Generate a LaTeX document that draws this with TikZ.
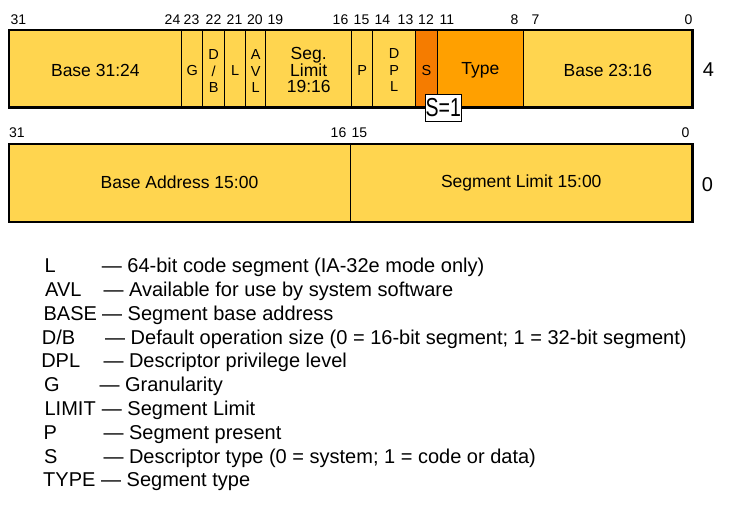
\documentclass[tikz,border=0pt]{standalone}
\usepackage{fontspec}
\usepackage{graphicx}
\setmainfont{Liberation Sans}
\definecolor{yel}{HTML}{FFD54F}
\definecolor{sorange}{HTML}{F57C00}
\definecolor{torange}{HTML}{FFA000}
\tikzset{
  cell/.style={draw=black, line width=0.9pt, fill=yel, inner sep=0pt, outer sep=0pt,
    anchor=north west},
  toprow/.style={cell, minimum height=77.5pt},
  botrow/.style={cell, minimum height=78pt},
  ctext/.style={inner sep=0pt, align=center},
  bigtxt/.style={ctext, font=\fontsize{17.5}{16.7}\selectfont},
  smalltxt/.style={ctext, font=\fontsize{14.5}{16.7}\selectfont},
  bitnum/.style={inner sep=0pt, font=\fontsize{14}{14}\selectfont},
  rowlbl/.style={inner sep=0pt, font=\fontsize{20}{20}\selectfont},
  legkey/.style={inner sep=0pt, anchor=base west, font=\fontsize{20}{20}\selectfont},
  legdesc/.style={inner sep=0pt, anchor=base west, font=\fontsize{20}{20}\selectfont},
  outline/.style={draw=black, line width=2.2pt}
}
\begin{document}
\begin{tikzpicture}[x=1pt,y=-1pt]
\fill[white] (0,0) rectangle (747,507);
\useasboundingbox (0,0) rectangle (747,507);

% ---- top row (offset 4)
\node[toprow, minimum width=172.7pt] (b3124) at (9,30) {};
\node[toprow, minimum width=21pt] (g) at (181.7,30) {};
\node[toprow, minimum width=22pt] (db) at (202.7,30) {};
\node[toprow, minimum width=21pt] (l) at (224.7,30) {};
\node[toprow, minimum width=20pt] (avl) at (245.7,30) {};
\node[toprow, minimum width=86pt] (seg) at (265.7,30) {};
\node[toprow, minimum width=20.8pt] (p) at (351.7,30) {};
\node[toprow, minimum width=43.2pt] (dpl) at (372.5,30) {};
\node[toprow, fill=sorange, minimum width=21.6pt] (s) at (415.7,30) {};
\node[toprow, fill=torange, minimum width=86pt] (type) at (437.3,30) {};
\node[toprow, minimum width=169.2pt] (b2316) at (523.3,30) {};
\draw[outline] (b3124.north west) rectangle (b2316.south east);

\node[bigtxt] (tb3124) at ([yshift=-1.4pt]b3124.center) {Base 31:24};
\node[smalltxt] (tg) at ([yshift=-1.4pt]g.center) {G};
\node[smalltxt] (tdb) at ([yshift=-2.5pt]db.center) {D\\/\\B};
\node[smalltxt] (tl) at ([yshift=-1.4pt]l.center) {L};
\node[smalltxt] (tavl) at ([yshift=-2.5pt]avl.center) {A\\V\\L};
\node[bigtxt] (tseg) at ([yshift=-1.4pt]seg.center) {Seg.\\Limit\\19:16};
\node[smalltxt] (tp) at ([yshift=-1.4pt]p.center) {P};
\node[smalltxt] (tdpl) at ([yshift=-1.4pt]dpl.center) {D\\P\\L};
\node[smalltxt] (ts) at ([yshift=-1.4pt]s.center) {S};
\node[bigtxt] (ttype) at ([yshift=-1.4pt]type.center) {Type};
\node[bigtxt] (tb2316) at ([yshift=-1.4pt]b2316.center) {Base 23:16};

% bit numbers top
\node[bitnum, anchor=base west] (n31) at (10.5,24) {31};
\node[bitnum, anchor=base east] (n24) at (180.5,24) {24};
\node[bitnum, anchor=base] (n23) at (191.5,24) {23};
\node[bitnum, anchor=base] (n22) at (213.5,24) {22};
\node[bitnum, anchor=base] (n21) at (234.5,24) {21};
\node[bitnum, anchor=base] (n20) at (254.8,24) {20};
\node[bitnum, anchor=base west] (n19) at (267.5,24) {19};
\node[bitnum, anchor=base east] (n16) at (348.5,24) {16};
\node[bitnum, anchor=base] (n15) at (361.5,24) {15};
\node[bitnum, anchor=base west] (n14) at (374.5,24) {14};
\node[bitnum, anchor=base east] (n13) at (413.5,24) {13};
\node[bitnum, anchor=base] (n12) at (426,24) {12};
\node[bitnum, anchor=base west] (n11) at (439.5,24) {11};
\node[bitnum, anchor=base east] (n8) at (518.5,24) {8};
\node[bitnum, anchor=base west] (n7) at (531.5,24) {7};
\node[bitnum, anchor=base east] (n0) at (692.5,24) {0};

\node[rowlbl] (r4) at (708.5,70) {4};

% S=1 tag
\node[draw=black, line width=0.6pt, fill=white, inner sep=0pt, outer sep=0pt,
  minimum width=36.7pt, minimum height=27pt] (s1) at (443.3,107.5)
  {\fontsize{26}{26}\selectfont\scalebox{0.75}[1]{S=1}};

% ---- bottom row (offset 0)
\node[botrow, minimum width=341pt] (baddr) at (9,144) {};
\node[botrow, minimum width=342.5pt] (slim) at (350,144) {};
\draw[outline] (baddr.north west) rectangle (slim.south east);
\node[bigtxt] (tbaddr) at ([yshift=0.6pt]baddr.center) {Base Address 15:00};
\node[bigtxt] (tslim) at (slim.center) {Segment Limit 15:00};

\node[bitnum, anchor=base west] (m31) at (9,137.7) {31};
\node[bitnum, anchor=base east] (m16) at (346.5,137.7) {16};
\node[bitnum, anchor=base west] (m15) at (351.5,137.7) {15};
\node[bitnum, anchor=base east] (m0) at (689.5,137.7) {0};

\node[rowlbl] (r0) at (707.5,185) {0};

% ---- legend
\node[legkey] (k1) at (44.4,272.6) {L};
\node[legdesc] (d1) at (101.7,272.6) {— 64-bit code segment (IA-32e mode only)};
\node[legkey] (k2) at (45,296.4) {AVL};
\node[legdesc] (d2) at (103.3,296.4) {— Available for use by system software};
\node[legkey] (k3) at (43.4,320.2) {BASE};
\node[legdesc] (d3) at (102,320.2) {— Segment base address};
\node[legkey] (k4) at (41.7,344.0) {D/B};
\node[legdesc] (d4) at (105,344.0) {— Default operation size (0 = 16-bit segment; 1 = 32-bit segment)};
\node[legkey] (k5) at (41.1,367.8) {DPL};
\node[legdesc] (d5) at (103.3,367.8) {— Descriptor privilege level};
\node[legkey] (k6) at (44,391.6) {G};
\node[legdesc] (d6) at (99.3,391.6) {— Granularity};
\node[legkey] (k7) at (44.4,415.4) {LIMIT};
\node[legdesc] (d7) at (101.7,415.4) {— Segment Limit};
\node[legkey] (k8) at (43.4,439.2) {P};
\node[legdesc] (d8) at (103.3,439.2) {— Segment present};
\node[legkey] (k9) at (44,463.0) {S};
\node[legdesc] (d9) at (103.3,463.0) {— Descriptor type (0 = system; 1 = code or data)};
\node[legkey] (k10) at (43,486.8) {TYPE};
\node[legdesc] (d10) at (101,486.8) {— Segment type};
\end{tikzpicture}
\end{document}
